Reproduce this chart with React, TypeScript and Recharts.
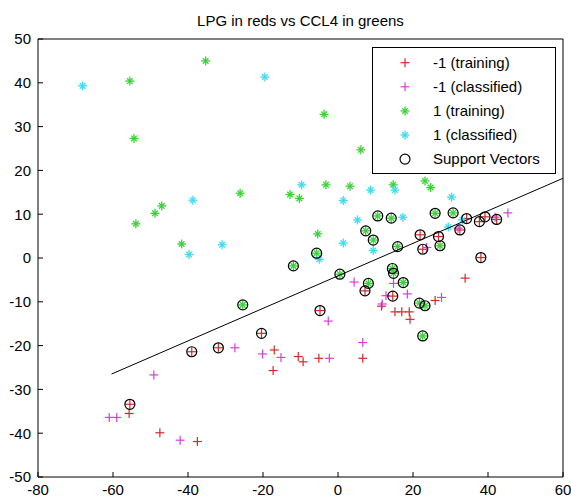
import { Legend, Scatter, ScatterChart, XAxis, YAxis } from "recharts";

type Pt = [number, number];

const TITLE = "LPG in reds vs CCL4 in greens";
const xTicks = [-80, -60, -40, -20, 0, 20, 40, 60];
const yTicks = [-50, -40, -30, -20, -10, 0, 10, 20, 30, 40, 50];

// -1 (training) points that are not support vectors
const redTrainingOnly: Pt[] = [
  [-55.7, -35.5], [-47.5, -39.9], [-37.5, -41.9], [-17.0, -21.0], [-17.3, -25.7],
  [-10.6, -22.5], [-9.3, -23.7], [-5.1, -22.9], [6.6, -22.9], [11.6, -11.0],
  [15.2, -12.3], [17.0, -12.3], [19.0, -12.3], [19.2, -14.0], [25.9, -9.7], [33.9, -4.6],
];

// -1 (training) points circled as support vectors
const redSupport: Pt[] = [
  [-55.5, -33.4], [-39.0, -21.4], [-31.9, -20.5], [-20.4, -17.2], [-4.8, -12.0],
  [7.2, -7.5], [14.6, -8.7], [21.9, 5.3], [22.6, 2.0], [26.8, 4.9], [32.5, 6.4],
  [34.3, 9.0], [37.7, 8.3], [39.2, 9.4], [42.3, 8.8], [38.1, 0.1],
];

const redClassified: Pt[] = [
  [-61, -36.4], [-59, -36.4], [-49.1, -26.7], [-42.1, -41.6], [-27.5, -20.5],
  [-20.1, -21.9], [-15.2, -22.7], [-2.3, -22.9], [-2.6, -14.4], [6.6, -19.3],
  [4.3, -5.5], [11.8, -10.5], [12.8, -8.6], [14.8, -5.8], [18.5, -8.2], [27.6, -9.0],
  [23.6, 2.4], [32.0, 6.8], [41.9, 9.3], [45.3, 10.3],
];

// 1 (training) points that are not support vectors
const greenTrainingOnly: Pt[] = [
  [-55.5, 40.4], [-35.3, 45.0], [-54.4, 27.3], [-3.7, 32.8], [6.1, 24.7],
  [-53.9, 7.8], [-48.8, 10.2], [-47.0, 11.9], [-26.1, 14.8], [-41.7, 3.2],
  [-12.8, 14.5], [-10.3, 13.6], [-3.2, 16.7], [3.2, 16.4], [14.7, 16.7],
  [23.2, 17.6], [24.7, 16.1], [-5.4, 5.5],
];

const greenSupport: Pt[] = [
  [-25.4, -10.7], [-11.9, -1.8], [-5.7, 1.1], [0.5, -3.7], [7.4, 6.2], [9.4, 4.1],
  [10.6, 9.6], [14.2, 9.1], [15.9, 2.6], [14.5, -2.4], [14.8, -3.5], [8.1, -5.8],
  [17.4, -5.6], [21.7, -10.3], [23.2, -10.9], [22.6, -17.8], [25.9, 10.2],
  [30.7, 10.3], [27.2, 2.8],
];

const greenClassified: Pt[] = [
  [-68.1, 39.3], [-19.5, 41.3], [-38.7, 13.2], [-39.7, 0.8], [-30.9, 3.0],
  [-9.7, 16.7], [8.7, 15.5], [15.2, 15.5], [1.4, 13.1], [5.2, 8.7], [1.4, 3.4],
  [9.4, 1.7], [-5.0, -0.3], [17.3, 9.3], [30.3, 13.9], [33.2, 8.7], [29.4, 7.1],
];

// separating line end points
const boundaryX = [-60.4, 60];
const boundaryY = [-26.5, 18.2];

const RED = "#d22a2a";
const MAGENTA = "#d640d6";
const GREEN = "#38d238";
const CYAN = "#3cdcef";
const FONT = "'Liberation Sans', Arial, sans-serif";

const toRows = (pts: Pt[]) => pts.map(([x, y]) => ({ x, y }));

const redTraining = toRows([...redTrainingOnly, ...redSupport]);
const greenTraining = toRows([...greenTrainingOnly, ...greenSupport]);
const supportVectors = toRows([...redSupport, ...greenSupport]);
const boundary = boundaryX.map((x, i) => ({ x, y: boundaryY[i] }));

function plusMark(color: string, cx: number, cy: number) {
  return (
    <g>
      <line x1={cx - 4.5} y1={cy} x2={cx + 4.5} y2={cy} stroke={color} strokeWidth={1.2} />
      <line x1={cx} y1={cy - 4.5} x2={cx} y2={cy + 4.5} stroke={color} strokeWidth={1.2} />
    </g>
  );
}

function starMark(color: string, cx: number, cy: number) {
  return (
    <g>
      <line x1={cx - 4.5} y1={cy} x2={cx + 4.5} y2={cy} stroke={color} strokeWidth={1.3} />
      <line x1={cx} y1={cy - 4.5} x2={cx} y2={cy + 4.5} stroke={color} strokeWidth={1.3} />
      <line x1={cx - 2.8} y1={cy - 2.8} x2={cx + 2.8} y2={cy + 2.8} stroke={color} strokeWidth={1.3} />
      <line x1={cx - 2.8} y1={cy + 2.8} x2={cx + 2.8} y2={cy - 2.8} stroke={color} strokeWidth={1.3} />
    </g>
  );
}

function circleMark(cx: number, cy: number) {
  return <circle cx={cx} cy={cy} r={5} fill="none" stroke="#000" strokeWidth={1.2} />;
}

const legendRows = [
  { label: "-1 (training)", mark: (x: number, y: number) => plusMark(RED, x, y) },
  { label: "-1 (classified)", mark: (x: number, y: number) => plusMark(MAGENTA, x, y) },
  { label: "1 (training)", mark: (x: number, y: number) => starMark(GREEN, x, y) },
  { label: "1 (classified)", mark: (x: number, y: number) => starMark(CYAN, x, y) },
  { label: "Support Vectors", mark: (x: number, y: number) => circleMark(x, y) },
];

function LegendBox() {
  return (
    <svg width={184} height={127} style={{ display: "block" }}>
      <rect x={0.5} y={0.5} width={183} height={126} fill="#fff" stroke="#000" />
      {legendRows.map((row, i) => {
        const y = 15.7 + i * 24.1;
        return (
          <g key={row.label}>
            {row.mark(33, y)}
            <text x={61} y={y} dy="0.35em" fontSize={15} fontFamily={FONT} fill="#000">
              {row.label}
            </text>
          </g>
        );
      })}
    </svg>
  );
}

const tickStyle = { fill: "#000", fontSize: 15, fontFamily: FONT };

export default function App() {
  return (
    <div style={{ position: "absolute", left: 0, top: 0, background: "#fff" }}>
      <ScatterChart
        width={571}
        height={503}
        margin={{ top: 38, right: 7, bottom: 25, left: 37 }}
      >
        <XAxis
          type="number"
          dataKey="x"
          domain={[-80, 60]}
          ticks={xTicks}
          interval={0}
          height={1}
          stroke="#000"
          tickSize={-5}
          tickMargin={12}
          tick={tickStyle}
          allowDataOverflow
        />
        <XAxis
          xAxisId="top"
          orientation="top"
          type="number"
          domain={[-80, 60]}
          ticks={xTicks}
          interval={0}
          height={1}
          stroke="#000"
          tickSize={-5}
          tick={false}
          allowDataOverflow
          label={{ value: TITLE, position: "top", offset: 12, fill: "#000", fontSize: 15, fontFamily: FONT }}
        />
        <YAxis
          type="number"
          dataKey="y"
          domain={[-50, 50]}
          ticks={yTicks}
          interval={0}
          width={1}
          stroke="#000"
          tickSize={-5}
          tickMargin={12}
          tick={tickStyle}
          allowDataOverflow
        />
        <YAxis
          yAxisId="right"
          orientation="right"
          type="number"
          domain={[-50, 50]}
          ticks={yTicks}
          interval={0}
          width={1}
          stroke="#000"
          tickSize={-5}
          tick={false}
          allowDataOverflow
        />
        <Scatter
          name="-1 (training)"
          data={redTraining}
          isAnimationActive={false}
          shape={(p: any) => plusMark(RED, p.cx, p.cy)}
        />
        <Scatter
          name="-1 (classified)"
          data={toRows(redClassified)}
          isAnimationActive={false}
          shape={(p: any) => plusMark(MAGENTA, p.cx, p.cy)}
        />
        <Scatter
          name="1 (training)"
          data={greenTraining}
          isAnimationActive={false}
          shape={(p: any) => starMark(GREEN, p.cx, p.cy)}
        />
        <Scatter
          name="1 (classified)"
          data={toRows(greenClassified)}
          isAnimationActive={false}
          shape={(p: any) => starMark(CYAN, p.cx, p.cy)}
        />
        <Scatter
          name="Support Vectors"
          data={supportVectors}
          isAnimationActive={false}
          shape={(p: any) => circleMark(p.cx, p.cy)}
        />
        <Scatter
          name="boundary"
          data={boundary}
          isAnimationActive={false}
          line={{ stroke: "#000", strokeWidth: 1 }}
          shape={() => <g />}
          legendType="none"
        />
        <Legend
          layout="vertical"
          align="center"
          verticalAlign="middle"
          content={() => <LegendBox />}
          wrapperStyle={{ position: "absolute", left: 372, top: 47, width: 184, height: 127 }}
        />
      </ScatterChart>
    </div>
  );
}
